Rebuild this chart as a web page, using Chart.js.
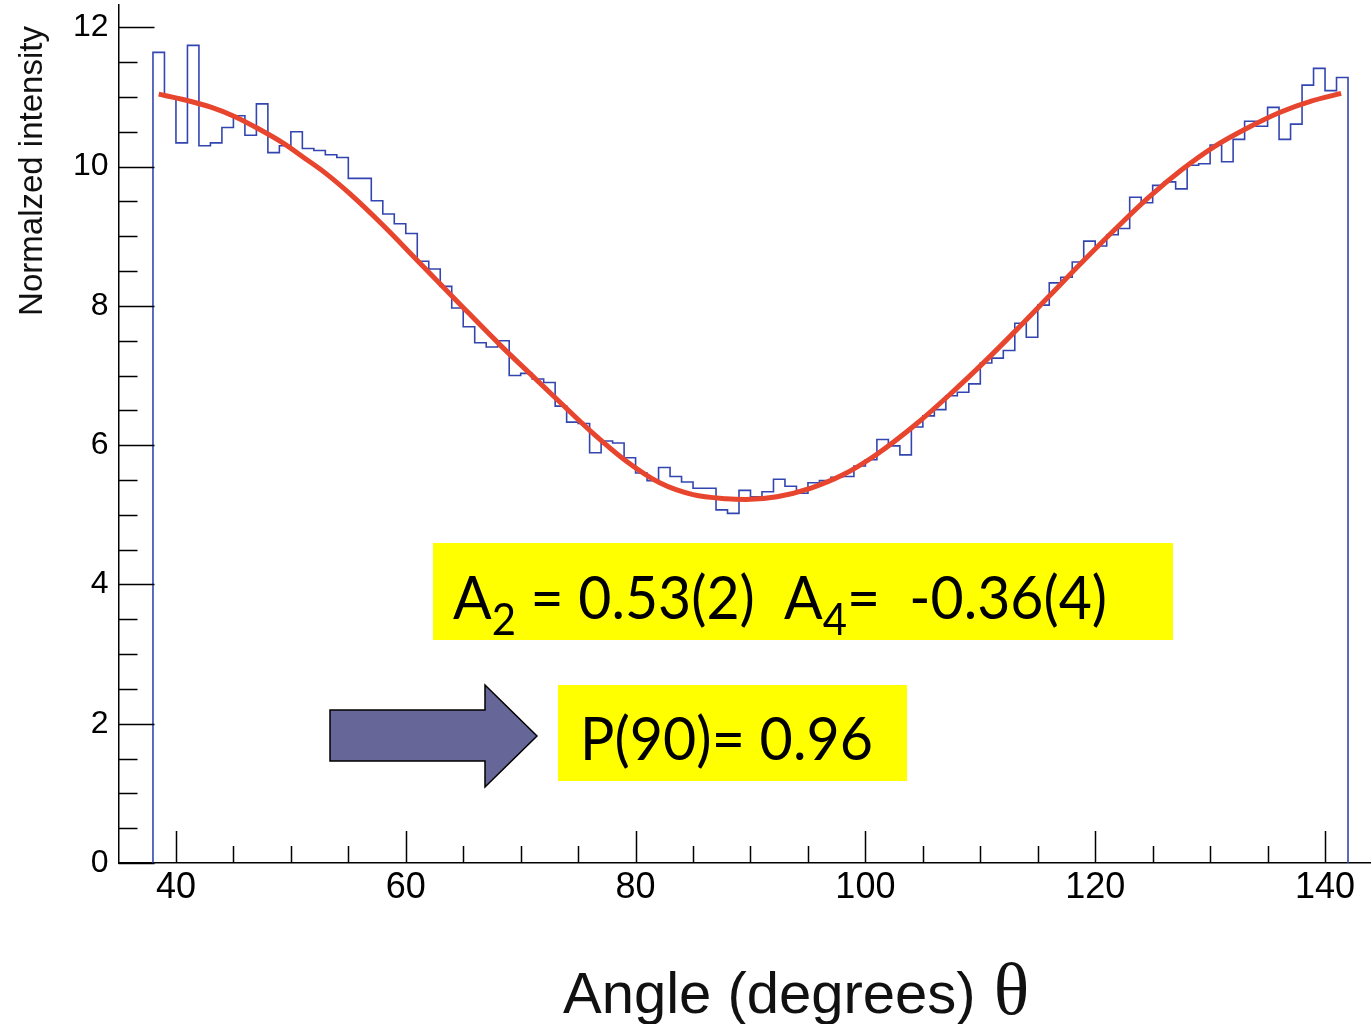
<!DOCTYPE html>
<html>
<head>
<meta charset="utf-8">
<script src="https://cdn.jsdelivr.net/npm/chart.js@4.4.1/dist/chart.umd.min.js"></script>
<style>
  html, body { margin: 0; padding: 0; background: #fff; }
</style>
</head>
<body>
<canvas id="myChart" width="1371" height="1024"></canvas>
<script>
// histogram: 1 degree bins starting at 38 deg
const binStart = 38;
const binWidth = 1;
const counts = [
  11.64, 11.00, 10.34, 11.74, 10.30, 10.34, 10.56, 10.73, 10.45, 10.90,
  10.20, 10.30, 10.50, 10.26, 10.23, 10.17, 10.13, 9.83, 9.83, 9.51,
  9.32, 9.18, 9.04, 8.64, 8.53, 8.28, 7.97, 7.70, 7.47, 7.41,
  7.50, 7.00, 7.03, 6.95, 6.90, 6.56, 6.33, 6.31, 5.89, 6.06,
  6.03, 5.82, 5.60, 5.49, 5.68, 5.55, 5.47, 5.38, 5.38, 5.07,
  5.02, 5.35, 5.26, 5.33, 5.51, 5.41, 5.31, 5.46, 5.49, 5.54,
  5.55, 5.70, 5.79, 6.08, 5.99, 5.86, 6.26, 6.42, 6.51, 6.71,
  6.76, 6.88, 7.18, 7.25, 7.36, 7.75, 7.55, 8.01, 8.33, 8.41,
  8.63, 8.93, 8.86, 9.02, 9.11, 9.56, 9.48, 9.73, 9.78, 9.68,
  10.02, 10.04, 10.31, 10.07, 10.39, 10.65, 10.58, 10.85, 10.39, 10.61,
  11.17, 11.41, 11.09, 11.28
];

// fitted curve
const fitAngles = [38.5, 40.7, 43.1, 45.1, 47.1, 49.4, 51.2, 52.9, 55.2, 58.0,
  60.9, 64.5, 68.2, 71.3, 73.4, 76.3, 79.2, 82.1, 85.0, 87.9,
  89.6, 92.3, 95.2, 98.0, 101.0, 104.4, 107.3, 110.2, 113.0, 116.0,
  119.0, 121.8, 124.6, 127.5, 130.3, 133.2, 136.1, 138.8, 141.4];
const fitValues = [11.04, 10.96, 10.85, 10.72, 10.55, 10.33, 10.12, 9.92, 9.60, 9.16,
  8.67, 8.06, 7.44, 6.95, 6.62, 6.17, 5.77, 5.46, 5.29, 5.23,
  5.22, 5.26, 5.38, 5.57, 5.87, 6.30, 6.72, 7.17, 7.63, 8.14,
  8.65, 9.11, 9.55, 9.95, 10.28, 10.55, 10.78, 10.94, 11.05];

const xTicks = [40, 60, 80, 100, 120, 140];
const yTicks = [0, 2, 4, 6, 8, 10, 12];

const histPoints = [{ x: binStart, y: 0 }];
counts.forEach((c, i) => histPoints.push({ x: binStart + i * binWidth, y: c }));
const binEnd = binStart + counts.length * binWidth;
histPoints.push({ x: binEnd, y: counts[counts.length - 1] });
histPoints.push({ x: binEnd, y: 0 });

const fitPoints = fitAngles.map((a, i) => ({ x: a, y: fitValues[i] }));

const sans = '"Liberation Sans", Arial, sans-serif';
const slide = 'Lato, "Open Sans", sans-serif';

// draws text pieces [text, size, drop] squeezed to a given width
function drawPieces(ctx, pieces, x0, base, width) {
  let total = 0;
  pieces.forEach(p => {
    ctx.font = p[1] + 'px ' + slide;
    total += ctx.measureText(p[0]).width;
  });
  ctx.save();
  ctx.translate(x0, base);
  ctx.scale(width / total, 1);
  let x = 0;
  pieces.forEach(p => {
    ctx.font = p[1] + 'px ' + slide;
    ctx.fillText(p[0], x, p[2]);
    x += ctx.measureText(p[0]).width;
  });
  ctx.restore();
}

// ROOT style inward ticks, axis titles and the slide annotations
const rootDecor = {
  id: 'rootDecor',
  afterDraw(chart) {
    const ctx = chart.ctx;
    const xs = chart.scales.x, ys = chart.scales.y;
    const area = chart.chartArea;
    ctx.save();
    ctx.strokeStyle = '#000';
    ctx.lineWidth = 1.5;
    ctx.beginPath();
    for (let v = 0; v <= 12.001; v += 0.5) {
      const y = Math.round(ys.getPixelForValue(v)) + 0.5;
      const len = (Math.abs(v % 2) < 0.001) ? 36 : 19;
      ctx.moveTo(area.left, y);
      ctx.lineTo(area.left + len, y);
    }
    for (let v = 40; v <= 140; v += 5) {
      const x = Math.round(xs.getPixelForValue(v)) + 0.5;
      const len = (v % 20 === 0) ? 32 : 17;
      ctx.moveTo(x, area.bottom);
      ctx.lineTo(x, area.bottom - len);
    }
    ctx.stroke();

    // y title
    ctx.fillStyle = '#111';
    ctx.font = '33px ' + sans;
    ctx.save();
    ctx.translate(42, 171);
    ctx.rotate(-Math.PI / 2);
    ctx.textAlign = 'center';
    ctx.textBaseline = 'alphabetic';
    ctx.fillText('Normalzed intensity', 0, 0);
    ctx.restore();

    // x title
    ctx.textAlign = 'left';
    ctx.textBaseline = 'alphabetic';
    ctx.font = '58px ' + sans;
    const t1 = 'Angle (degrees) ';
    ctx.fillText(t1, 563, 1013);
    const w1 = ctx.measureText(t1).width;
    ctx.font = '74px "Liberation Serif", "Times New Roman", serif';
    ctx.fillText('\u03B8', 563 + w1 + 2, 1014);

    // yellow boxes
    ctx.fillStyle = '#ffff00';
    ctx.fillRect(433, 543, 740, 97);
    ctx.fillRect(558, 685, 349, 96);

    ctx.fillStyle = '#000';
    drawPieces(ctx, [
      ['A', 60, 0], ['2', 44, 16], [' = 0.53(2)  A', 60, 0], ['4', 44, 16], ['=  -0.36(4)', 60, 0]
    ], 453, 619, 654);
    drawPieces(ctx, [['P(90)= 0.96', 60, 0]], 580, 760, 293);

    // arrow
    ctx.beginPath();
    ctx.moveTo(330, 710);
    ctx.lineTo(485, 710);
    ctx.lineTo(485, 685);
    ctx.lineTo(537, 736);
    ctx.lineTo(485, 787);
    ctx.lineTo(485, 761);
    ctx.lineTo(330, 761);
    ctx.closePath();
    ctx.fillStyle = '#666699';
    ctx.fill();
    ctx.strokeStyle = '#000';
    ctx.lineWidth = 1.5;
    ctx.stroke();
    ctx.restore();
  }
};

const ctx = document.getElementById('myChart');

new Chart(ctx, {
  type: 'line',
  data: {
    datasets: [
      {
        label: 'data',
        data: histPoints,
        stepped: 'before',
        borderColor: '#3345b0',
        borderWidth: 1.6,
        pointRadius: 0,
        fill: false,
        order: 2
      },
      {
        label: 'fit',
        data: fitPoints,
        cubicInterpolationMode: 'monotone',
        borderColor: '#e8452f',
        borderWidth: 5,
        pointRadius: 0,
        fill: false,
        order: 1
      }
    ]
  },
  options: {
    responsive: false,
    devicePixelRatio: 1,
    animation: false,
    layout: { padding: { top: 5, right: 0, left: 0, bottom: 0 } },
    plugins: {
      legend: { display: false },
      tooltip: { enabled: false }
    },
    scales: {
      x: {
        type: 'linear',
        min: 35,
        max: 144,
        afterBuildTicks: s => { s.ticks = xTicks.map(v => ({ value: v })); },
        afterFit: s => { s.height = 161; s.paddingLeft = 0; s.paddingRight = 0; },
        grid: { drawOnChartArea: false, drawTicks: false },
        border: { color: '#000', width: 1.5 },
        ticks: {
          color: '#000',
          font: { family: sans, size: 36 },
          padding: 3,
          maxRotation: 0,
          autoSkip: false
        }
      },
      y: {
        min: 0,
        max: 12.32,
        afterBuildTicks: s => { s.ticks = yTicks.map(v => ({ value: v })); },
        afterFit: s => { s.width = 118.5; s.paddingTop = 0; s.paddingBottom = 0; },
        grid: { drawOnChartArea: false, drawTicks: false },
        border: { color: '#000', width: 1.5 },
        ticks: {
          color: '#000',
          font: { family: sans, size: 32 },
          padding: 10
        }
      }
    }
  },
  plugins: [rootDecor]
});
</script>
</body>
</html>
